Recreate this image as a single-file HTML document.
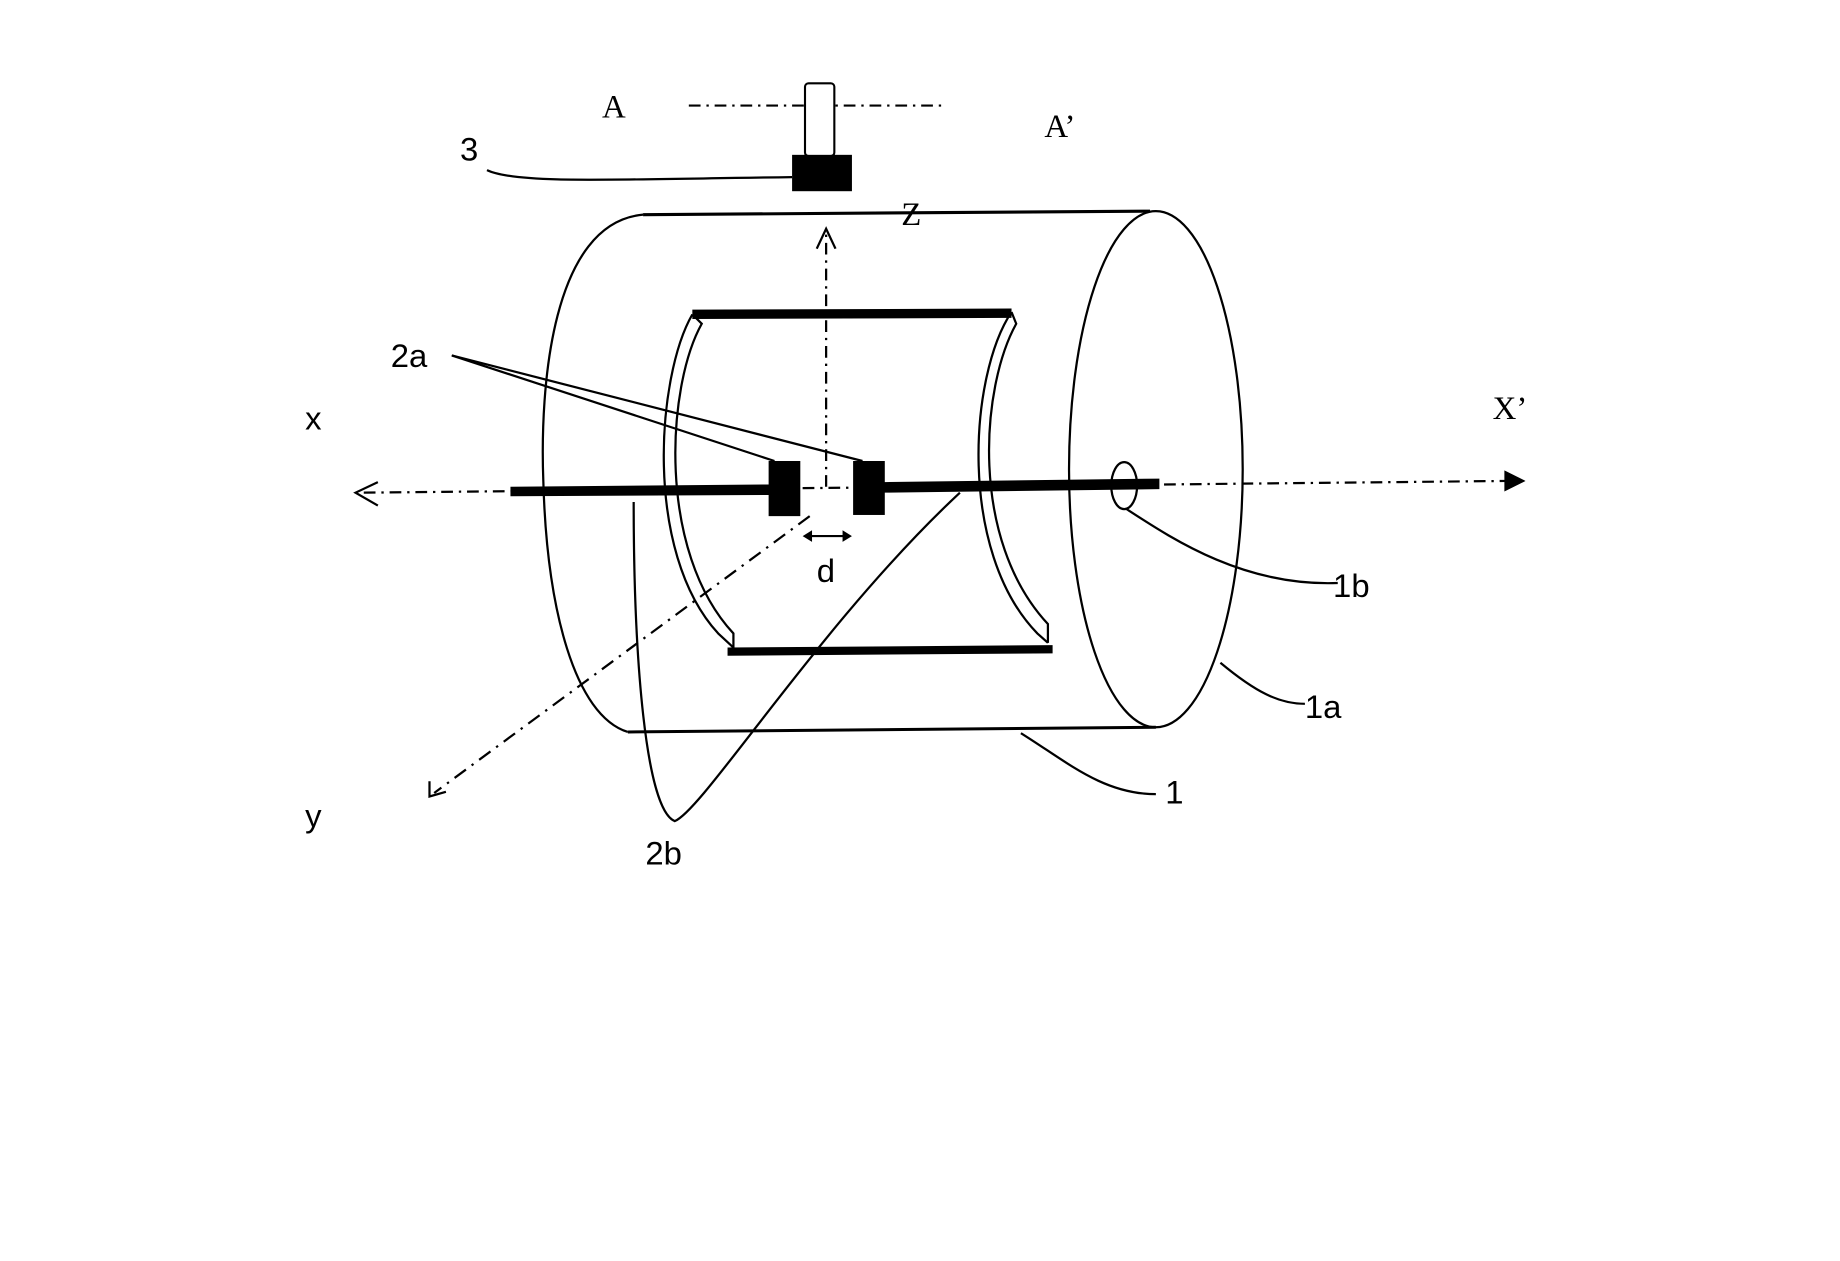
<!DOCTYPE html>
<html><head><meta charset="utf-8"><style>html,body{margin:0;padding:0;background:#fff}svg{display:block}</style></head>
<body>
<svg width="1840" height="1261" viewBox="0 0 1568 1075" preserveAspectRatio="none" xmlns="http://www.w3.org/2000/svg" font-family="Liberation Sans, sans-serif" fill="none" stroke="#000">
<g stroke-width="1.9">
<path d="M587 90 H805" stroke-dasharray="10 5 2 5"/>
<rect x="686" y="71" width="25" height="62" rx="3" stroke-width="1.8" fill="#fff"/>
<path d="M548 183 L980 180" stroke-width="2.6"/>
<path d="M535 624 L985 620" stroke-width="2.6"/>
<path d="M548 183 C470 190 460 330 463 410 C466 520 490 610 535 624"/>
<ellipse cx="985" cy="400" rx="74" ry="220"/>
<path d="M704 415 V196" stroke-dasharray="10 5 2 5"/>
<path d="M696 212 L704 195 L712 212"/>
<!-- inner frame curved sides -->
<path d="M590 268 L598 276 C568 330 560 470 625 540 V552"/>
<path d="M590 268 C560 320 548 470 612 540 L625 552"/>
<path d="M862 266 L866 276 C836 330 826 460 893 532 V548"/>
<path d="M862 266 C826 320 816 470 884 540 L893 548"/>
<path d="M310 420 L1285 410" stroke-dasharray="10 5 2 5"/>
<path d="M322 411 L303 420 L322 431"/>
<path d="M690 440 L370 676" stroke-dasharray="12 6 2 6"/>
<path d="M366 666 L366 679 L380 675"/>
<path d="M415 145 C440 157 520 153 675 151"/>
<path d="M385 303 L660 393"/>
<path d="M385 303 L735 393"/>
<path d="M540 428 C540 560 550 690 575 700 C600 690 700 530 818 420"/>
<path d="M960 434 C1000 460 1060 500 1140 497"/>
<path d="M1040 565 C1070 590 1090 600 1112 600"/>
<path d="M870 625 C910 650 940 677 985 677"/>
<ellipse cx="958" cy="414" rx="11" ry="20"/>
<path d="M688 457 H722"/>
</g>
<g fill="#000" stroke="none">
<rect x="675" y="132" width="51" height="31"/>
<polygon points="1300,410 1282,401 1282,419"/>
<polygon points="684,457 692,452 692,462"/>
<polygon points="726,457 718,452 718,462"/>
<polygon points="590,264 862,263 862,271 590,272"/>
<polygon points="620,552 897,550 897,557 620,559"/>
<polygon points="435,415 656,413 656,422 435,423"/>
<rect x="655" y="393" width="27" height="47"/>
<rect x="727" y="393" width="27" height="46"/>
<polygon points="753,411 988,408 988,417 753,420"/>
</g>
<g fill="#000" stroke="none" font-size="28">
<text x="513" y="100" font-family="Liberation Serif, serif">A</text>
<text x="890" y="117" font-family="Liberation Serif, serif">A’</text>
<text x="768" y="192" font-family="Liberation Serif, serif">Z</text>
<text x="392" y="137">3</text>
<text x="333" y="313">2a</text>
<text x="260" y="366">x</text>
<text x="1272" y="357" font-family="Liberation Serif, serif">X’</text>
<text x="696" y="496">d</text>
<text x="1136" y="509">1b</text>
<text x="1112" y="612">1a</text>
<text x="993" y="685">1</text>
<text x="260" y="705">y</text>
<text x="550" y="737">2b</text>
</g>
</svg>
</body></html>
